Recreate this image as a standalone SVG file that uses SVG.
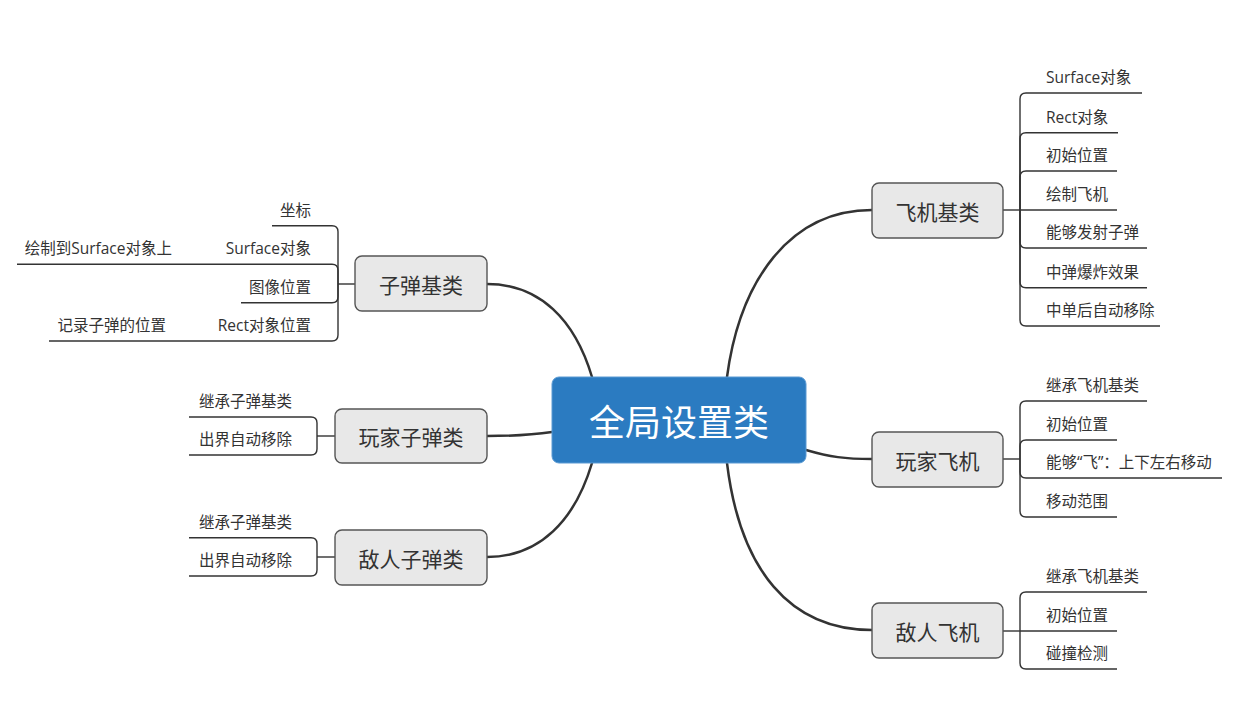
<svg xmlns="http://www.w3.org/2000/svg" width="1255" height="702" viewBox="0 0 1255 702">
<style>
.bg{fill:#ffffff}
.main{fill:none;stroke:#333333;stroke-width:2.5;stroke-linecap:round}
.sub{fill:none;stroke:#333333;stroke-width:1.4}
.root rect{fill:#2b7bc1;stroke:#5a9ad3;stroke-width:1}
.root text{fill:#ffffff;font-family:"Noto Sans CJK SC","Open Sans",sans-serif;font-size:36px;text-anchor:middle;dominant-baseline:central}
.topic rect{fill:#e8e8e8;stroke:#555555;stroke-width:1.4}
.topic text{fill:#333333;font-family:"Noto Sans CJK SC","Open Sans",sans-serif;font-size:21px;text-anchor:middle;dominant-baseline:central}
.leaf{fill:#333333;font-family:"Open Sans","Noto Sans CJK SC",sans-serif;font-size:15.5px}
.r{text-anchor:end}
</style>
<rect class="bg" x="0" y="0" width="1255" height="702"/>

<g id="connectors">
  <path class="main" d="M727,377 C740,280 790,210 872,210"/>
  <path class="main" d="M592,377 C575,320 540,284 487,284"/>
  <path class="main" d="M552,432 C525,436 505,436 487,436"/>
  <path class="main" d="M592,463 C575,520 540,557 487,557"/>
  <path class="main" d="M806,450 C830,457 845,459 872,459"/>
  <path class="main" d="M727,463 C740,570 790,630 872,630"/>

  <!-- 飞机基类 children -->
  <path class="sub" d="M1003,210 H1020"/>
  <path class="sub" d="M1020,210 V99 Q1020,93 1026,93 H1142"/>
  <path class="sub" d="M1020,210 V138.7 Q1020,132.7 1026,132.7 H1118"/>
  <path class="sub" d="M1020,210 V177 Q1020,171 1026,171 H1117"/>
  <path class="sub" d="M1020,210 H1117"/>
  <path class="sub" d="M1020,210 V242 Q1020,248 1026,248 H1147"/>
  <path class="sub" d="M1020,210 V281.7 Q1020,287.7 1026,287.7 H1147"/>
  <path class="sub" d="M1020,210 V320 Q1020,326 1026,326 H1160"/>

  <!-- 玩家飞机 children -->
  <path class="sub" d="M1003,459 H1020"/>
  <path class="sub" d="M1020,459 V407 Q1020,401 1026,401 H1147"/>
  <path class="sub" d="M1020,459 V446 Q1020,440 1026,440 H1117"/>
  <path class="sub" d="M1020,459 V472 Q1020,478 1026,478 H1222"/>
  <path class="sub" d="M1020,459 V511 Q1020,517 1026,517 H1117"/>

  <!-- 敌人飞机 children -->
  <path class="sub" d="M1003,631 H1020"/>
  <path class="sub" d="M1020,631 V598 Q1020,592 1026,592 H1147"/>
  <path class="sub" d="M1020,631 H1117"/>
  <path class="sub" d="M1020,631 V663 Q1020,669 1026,669 H1117"/>

  <!-- 子弹基类 children -->
  <path class="sub" d="M355,284 H338"/>
  <path class="sub" d="M338,284 V231.7 Q338,225.7 332,225.7 H272"/>
  <path class="sub" d="M338,284 V270.3 Q338,264.3 332,264.3 H17"/>
  <path class="sub" d="M338,284 V296.7 Q338,302.7 332,302.7 H241"/>
  <path class="sub" d="M338,284 V335 Q338,341 332,341 H49"/>

  <!-- 玩家子弹类 children -->
  <path class="sub" d="M335,436 H317"/>
  <path class="sub" d="M317,436 V423 Q317,417 311,417 H189"/>
  <path class="sub" d="M317,436 V449 Q317,455 311,455 H189"/>

  <!-- 敌人子弹类 children -->
  <path class="sub" d="M335,557 H317"/>
  <path class="sub" d="M317,557 V543.7 Q317,537.7 311,537.7 H189"/>
  <path class="sub" d="M317,557 V570 Q317,576 311,576 H189"/>
</g>

<g id="root" class="root">
  <rect x="552" y="377" width="254" height="86" rx="7"/>
  <text x="679" y="420">全局设置类</text>
</g>

<g id="node-plane-base" class="topic">
  <rect x="872" y="183" width="131" height="55" rx="7"/>
  <text x="937.5" y="210.5">飞机基类</text>
</g>
<g id="node-player-plane" class="topic">
  <rect x="872" y="432" width="131" height="55" rx="7"/>
  <text x="937.5" y="459.5">玩家飞机</text>
</g>
<g id="node-enemy-plane" class="topic">
  <rect x="872" y="603" width="131" height="55" rx="7"/>
  <text x="937.5" y="630.5">敌人飞机</text>
</g>
<g id="node-bullet-base" class="topic">
  <rect x="355" y="256" width="132" height="55" rx="7"/>
  <text x="421" y="283.5">子弹基类</text>
</g>
<g id="node-player-bullet" class="topic">
  <rect x="335" y="409" width="152" height="54" rx="7"/>
  <text x="411" y="436">玩家子弹类</text>
</g>
<g id="node-enemy-bullet" class="topic">
  <rect x="335" y="530" width="152" height="55" rx="7"/>
  <text x="411" y="557.5">敌人子弹类</text>
</g>

<g id="leaves-plane-base">
  <text class="leaf" x="1046" y="83">Surface对象</text>
  <text class="leaf" x="1046" y="122.5">Rect对象</text>
  <text class="leaf" x="1046" y="161">初始位置</text>
  <text class="leaf" x="1046" y="200">绘制飞机</text>
  <text class="leaf" x="1046" y="238">能够发射子弹</text>
  <text class="leaf" x="1046" y="277.5">中弹爆炸效果</text>
  <text class="leaf" x="1046" y="316">中单后自动移除</text>
</g>
<g id="leaves-player-plane">
  <text class="leaf" x="1046" y="391">继承飞机基类</text>
  <text class="leaf" x="1046" y="430">初始位置</text>
  <text class="leaf" x="1046" y="468">能够“飞”：上下左右移动</text>
  <text class="leaf" x="1046" y="507">移动范围</text>
</g>
<g id="leaves-enemy-plane">
  <text class="leaf" x="1046" y="582">继承飞机基类</text>
  <text class="leaf" x="1046" y="621">初始位置</text>
  <text class="leaf" x="1046" y="659">碰撞检测</text>
</g>
<g id="leaves-bullet-base">
  <text class="leaf r" x="311" y="215.5">坐标</text>
  <text class="leaf r" x="311" y="254">Surface对象</text>
  <text class="leaf r" x="311" y="292.5">图像位置</text>
  <text class="leaf r" x="311" y="331">Rect对象位置</text>
  <text class="leaf r" x="172" y="254">绘制到Surface对象上</text>
  <text class="leaf r" x="166" y="331">记录子弹的位置</text>
</g>
<g id="leaves-player-bullet">
  <text class="leaf" x="199" y="407">继承子弹基类</text>
  <text class="leaf" x="199" y="445">出界自动移除</text>
</g>
<g id="leaves-enemy-bullet">
  <text class="leaf" x="199" y="527.7">继承子弹基类</text>
  <text class="leaf" x="199" y="566">出界自动移除</text>
</g>
</svg>
